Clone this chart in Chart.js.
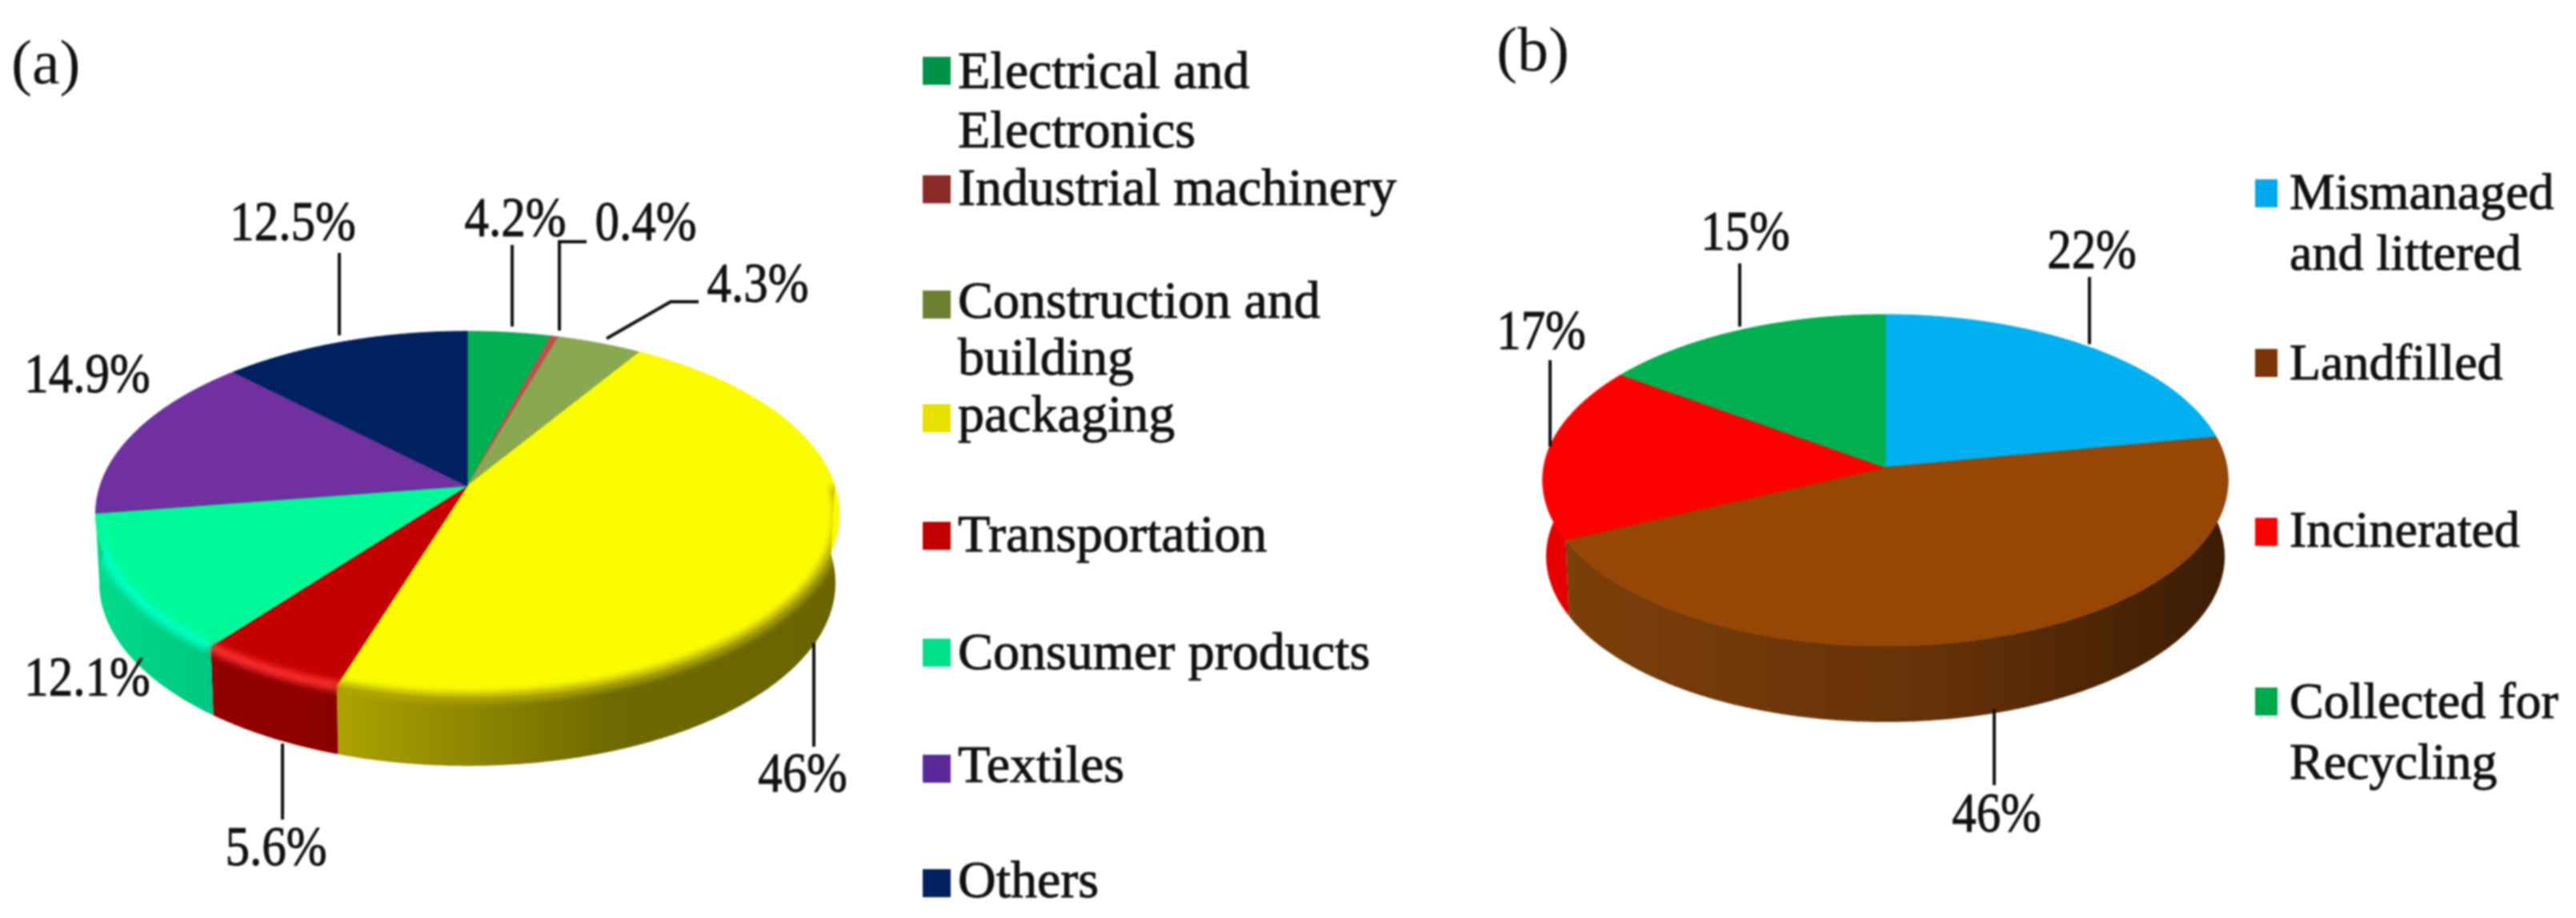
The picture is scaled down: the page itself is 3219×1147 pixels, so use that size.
<!DOCTYPE html>
<html>
<head>
<meta charset="utf-8">
<script src="https://cdn.jsdelivr.net/npm/chart.js@4"></script>
<style>
    html, body { margin: 0; padding: 0; background: #fff; overflow: hidden; }
    canvas { position: absolute; top: 0; filter: blur(0.8px); }
    #chartA { left: 0; }
    #chartB { left: 1750px; }
</style>
</head>
<body>
<canvas id="chartA" width="1750" height="1147"></canvas>
<canvas id="chartB" width="1469" height="1147"></canvas>
<script>
// data
const categoriesA = ["Electrical and Electronics", "Industrial machinery", "Construction and building", "packaging", "Transportation", "Consumer products", "Textiles", "Others"];
const valuesA = [4.2, 0.4, 4.3, 46, 5.6, 12.1, 14.9, 12.5];
const categoriesB = ["Mismanaged and littered", "Landfilled", "Incinerated", "Collected for Recycling"];
const valuesB = [22, 46, 17, 15];

// colours
const colorsA = ["#00b050", "#c0504d", "#8aa850", "#fcfc00", "#c40000", "#00fa9a", "#7030a0", "#002060"];
const markersA = ["#009048", "#8a2a2a", "#6b8030", "#e8e000", "#c00000", "#00e08a", "#5b2a9a", "#002060"];
const sidesA = [null, null, null, ["#aca300", "#6e6900", "#6a6500"], ["#920000", "#8e0000", "#8a0000"], ["#00dc8c", "#00d084", "#00c880"], null, null];
const rimsA = [null, null, null, "#b0a800", "#ff3030", "#00ffc4", null, null];
const colorsB = ["#00b0f0", "#964605", "#ff0000", "#00b050"];
const markersB = ["#00a8ec", "#7a3408", "#ff0000", "#00a84c"];
const sidesB = [null, ["#7c3f0b", "#663208", "#3a1c04"], ["#e80000", "#e00000", "#d80000"], null];

// page layout, in page pixels
const legendA = [
    { box: 88, lines: [["Electrical and", 110], ["Electronics", 184]] },
    { box: 236, lines: [["Industrial machinery", 256]] },
    { box: 380, lines: [["Construction and", 397], ["building", 468]] },
    { box: 522, lines: [["packaging", 539]] },
    { box: 669, lines: [["Transportation", 689]] },
    { box: 815, lines: [["Consumer products", 836]] },
    { box: 960, lines: [["Textiles", 977]] },
    { box: 1103, lines: [["Others", 1121]] },
];
const legendB = [
    { box: 241, lines: [["Mismanaged", 261], ["and littered", 337]] },
    { box: 453, lines: [["Landfilled", 474]] },
    { box: 664, lines: [["Incinerated", 683]] },
    { box: 876, lines: [["Collected for", 897], ["Recycling", 973]] },
];
const labelsA = [
    { x: 644, y: 295, line: [[640, 306], [640, 408]] },
    { x: 807, y: 300, line: [[733, 302], [699, 302], [699, 413]] },
    { x: 947, y: 377, line: [[873, 377], [838, 377], [758, 423]] },
    { x: 1003, y: 989, line: [[1017, 803], [1017, 933]] },
    { x: 345, y: 1081, line: [[353, 929], [353, 1024]] },
    { x: 109, y: 869, line: null },
    { x: 109, y: 490, line: null },
    { x: 366, y: 300, line: [[424, 316], [424, 419]] },
];
const labelsB = [
    { x: 2614, y: 335, line: [[2611, 346], [2611, 430]] },
    { x: 2495, y: 1039, line: [[2492, 886], [2492, 981]] },
    { x: 1926, y: 436, line: [[1937, 450], [1937, 558]] },
    { x: 2181, y: 312, line: [[2174, 329], [2174, 408]] },
];

function project(arc, angle, opts) {
    const X = Math.cos(angle);
    const Y = -Math.sin(angle);
    const w = 1 + opts.tilt * Y;
    return {
        x: arc.x + arc.outerRadius * X / w,
        y: arc.y - opts.squash * Y / w,
    };
}

function samples(arc, from, to, opts) {
    const n = Math.max(2, Math.ceil((to - from) / 0.01));
    const pts = [];
    for (let i = 0; i <= n; i++) {
        pts.push(project(arc, from + (to - from) * i / n, opts));
    }
    return pts;
}

function lowered(arc, pts, opts) {
    return pts.map((p) => ({
        x: arc.x + (p.x - arc.x) * 0.99,
        y: p.y + opts.depth,
    }));
}

function drawSide(ctx, arc, i, opts) {
    const stops = opts.sides[i];
    if (!stops) return;
    const pts = samples(arc, arc.startAngle, arc.endAngle, opts);
    const xs = pts.map((p) => p.x);
    const grad = ctx.createLinearGradient(Math.min(...xs), 0, Math.max(...xs), 0);
    grad.addColorStop(0, stops[0]);
    grad.addColorStop(0.55, stops[1]);
    grad.addColorStop(1, stops[2]);
    ctx.beginPath();
    pts.forEach((p) => ctx.lineTo(p.x, p.y));
    lowered(arc, pts, opts).reverse().forEach((p) => ctx.lineTo(p.x, p.y));
    ctx.closePath();
    ctx.fillStyle = grad;
    ctx.fill();
}

function drawTop(ctx, arc, opts) {
    const pts = samples(arc, arc.startAngle, arc.endAngle, opts);
    ctx.beginPath();
    ctx.moveTo(arc.x, arc.y);
    pts.forEach((p) => ctx.lineTo(p.x, p.y));
    ctx.closePath();
    ctx.fillStyle = arc.options.backgroundColor;
    ctx.strokeStyle = arc.options.backgroundColor;
    ctx.lineWidth = 1;
    ctx.fill();
    ctx.stroke();
}

// soft highlight along the front rim, kept inside the pie outline
function drawRim(ctx, arc, i, opts) {
    const rim = opts.rims && opts.rims[i];
    if (!rim) return;
    const from = Math.max(arc.startAngle, 0);
    const to = Math.min(arc.endAngle, Math.PI);
    if (to <= from) return;
    const pts = samples(arc, from, to, opts);
    const front = samples(arc, 0, Math.PI, opts);
    const back = samples(arc, Math.PI, Math.PI * 2, opts);
    ctx.save();
    ctx.beginPath();
    lowered(arc, front, opts).forEach((p) => ctx.lineTo(p.x, p.y));
    back.forEach((p) => ctx.lineTo(p.x, p.y));
    ctx.closePath();
    ctx.clip();
    ctx.filter = "blur(4px)";
    ctx.beginPath();
    pts.forEach((p) => ctx.lineTo(p.x, p.y + 1));
    ctx.strokeStyle = rim;
    ctx.lineWidth = 12;
    ctx.stroke();
    ctx.restore();
}

function stretchedText(ctx, text, x, y, stretch) {
    ctx.save();
    ctx.translate(x, y);
    ctx.scale(stretch, 1);
    ctx.lineWidth = 1;
    ctx.fillText(text, 0, 0);
    ctx.strokeText(text, 0, 0);
    ctx.restore();
}

const pie3d = {
    id: "pie3d",
    beforeDatasetDraw(chart, args, opts) {
        const ctx = chart.ctx;
        const arcs = chart.getDatasetMeta(0).data;
        ctx.save();
        arcs.forEach((arc, i) => drawSide(ctx, arc, i, opts));
        arcs.forEach((arc) => drawTop(ctx, arc, opts));
        arcs.forEach((arc, i) => drawRim(ctx, arc, i, opts));
        ctx.restore();
        return false;
    },
    afterDraw(chart, args, opts) {
        const ctx = chart.ctx;
        const values = chart.data.datasets[0].data;
        ctx.save();
        ctx.translate(-opts.left, 0);
        ctx.fillStyle = "#111";
        ctx.strokeStyle = "#111";
        ctx.textBaseline = "alphabetic";

        // panel letter
        ctx.textAlign = "left";
        ctx.font = "78px 'Liberation Serif'";
        ctx.fillText(opts.letter[0], opts.letter[1], opts.letter[2]);

        // value labels and their leader lines
        ctx.textAlign = "center";
        ctx.font = "70px 'Liberation Serif'";
        opts.labels.forEach((label, i) => {
            stretchedText(ctx, `${values[i]}%`, label.x, label.y, 0.87);
            if (label.line) {
                ctx.lineWidth = 4;
                ctx.beginPath();
                label.line.forEach((p) => ctx.lineTo(p[0], p[1]));
                ctx.stroke();
            }
        });

        // legend
        ctx.textAlign = "left";
        ctx.font = `${opts.legendFont}px 'Liberation Serif'`;
        opts.legend.forEach((row, i) => {
            ctx.fillStyle = opts.markers[i];
            ctx.fillRect(opts.boxX, row.box - 17, opts.boxW, 35);
            ctx.fillStyle = "#111";
            row.lines.forEach((line) => stretchedText(ctx, line[0], opts.textX, line[1], 1));
        });
        ctx.restore();
    },
};

new Chart(document.getElementById("chartA"), {
    type: "pie",
    data: {
        labels: categoriesA,
        datasets: [{ data: valuesA, backgroundColor: colorsA, borderWidth: 0 }],
    },
    plugins: [pie3d],
    options: {
        responsive: false,
        animation: false,
        layout: { padding: { left: 125, right: 707, top: 148, bottom: 81 } },
        plugins: {
            legend: { display: false },
            tooltip: { enabled: false },
            pie3d: {
                left: 0,
                tilt: 0.155,
                squash: 223,
                depth: 86,
                sides: sidesA,
                rims: rimsA,
                labels: labelsA,
                legend: legendA,
                markers: markersA,
                letter: ["(a)", 14, 104],
                legendFont: 66,
                boxX: 1153,
                boxW: 35,
                textX: 1197,
            },
        },
    },
});

new Chart(document.getElementById("chartB"), {
    type: "pie",
    data: {
        labels: categoriesB,
        datasets: [{ data: valuesB, backgroundColor: colorsB, borderWidth: 0 }],
    },
    plugins: [pie3d],
    options: {
        responsive: false,
        animation: false,
        layout: { padding: { left: 179, right: 436, top: 157, bottom: 136 } },
        plugins: {
            legend: { display: false },
            tooltip: { enabled: false },
            pie3d: {
                left: 1750,
                tilt: 0.0774,
                squash: 205.8,
                depth: 95,
                sides: sidesB,
                rims: null,
                labels: labelsB,
                legend: legendB,
                markers: markersB,
                letter: ["(b)", 1870, 88],
                legendFont: 64,
                boxX: 2818,
                boxW: 28,
                textX: 2861,
            },
        },
    },
});
</script>
</body>
</html>
